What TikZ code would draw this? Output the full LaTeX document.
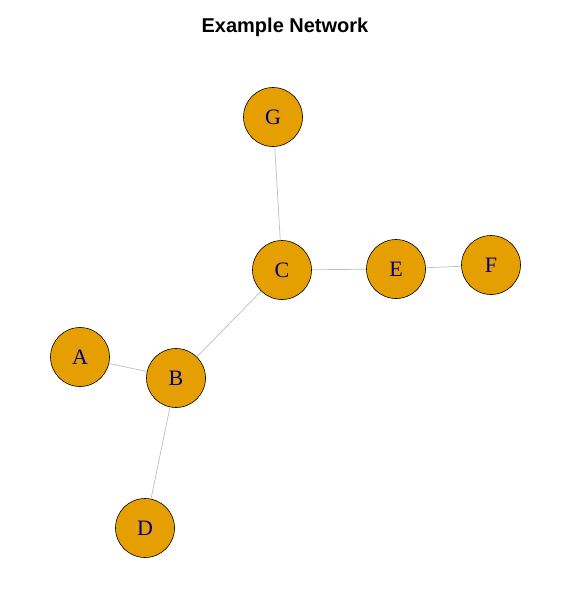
\documentclass[tikz,border=0pt]{standalone}
\usepackage{fontspec}
\setmainfont{Liberation Serif}
\newfontfamily\titlefont{Liberation Sans}
\usepackage{tikz}
\definecolor{vfill}{HTML}{E69F00}
\definecolor{vlabel}{HTML}{00008B}
\definecolor{ecol}{HTML}{BEBEBE}

\begin{document}
\begin{tikzpicture}[x=1pt, y=-1pt, main/.style={draw, circle, fill=vfill, minimum size=59pt, inner sep=0pt, text=vlabel, font=\fontsize{22}{22}\selectfont, line width=0.6pt}, edge/.style={draw=ecol, line width=0.7pt}]
		\useasboundingbox (0,0) rectangle (565,611);
		\node[font=\titlefont\bfseries\fontsize{20}{20}\selectfont] (title) at (285,27) {Example Network};

		\node[main] (G) at (273,117) {G};
		\node[main] (C) at (282,270) {C};
		\node[main] (E) at (396,269) {E};
		\node[main] (F) at (491,265) {F};
		\node[main] (A) at (80,357) {A};
		\node[main] (B) at (176,378) {B};
		\node[main] (D) at (145,528) {D};

		\draw[edge] (G) to (C);
		\draw[edge] (C) to (E);
		\draw[edge] (E) to (F);
		\draw[edge] (C) to (B);
		\draw[edge] (A) to (B);
		\draw[edge] (B) to (D);
	\end{tikzpicture}
\end{document}
